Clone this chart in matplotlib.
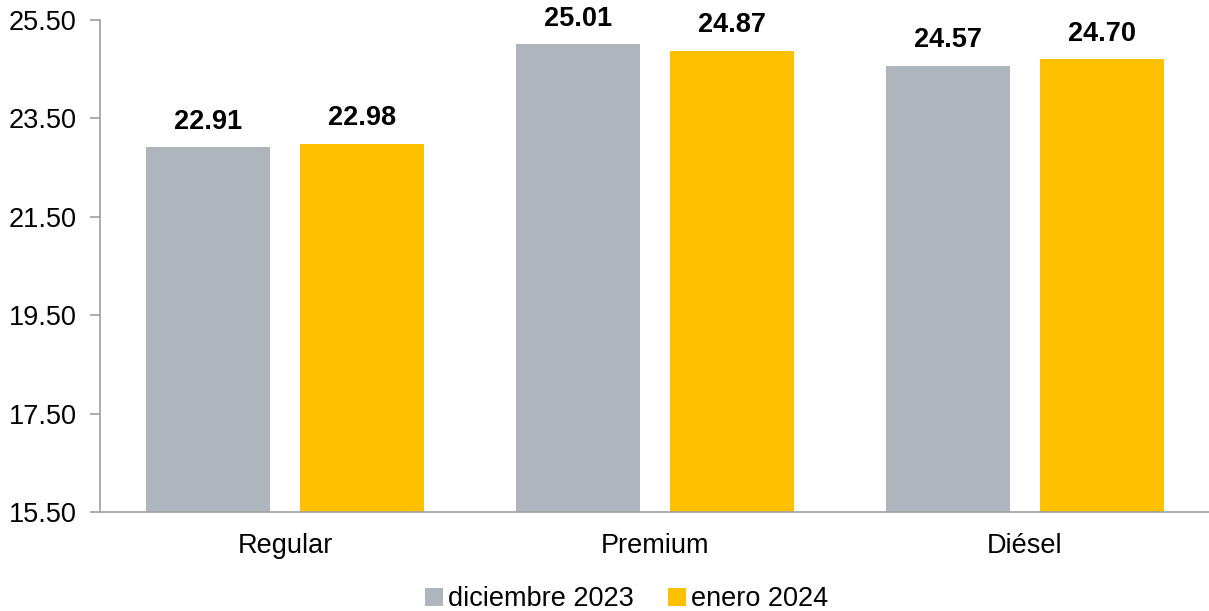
import matplotlib
matplotlib.use("Agg")
import matplotlib.pyplot as plt
import numpy as np

categories = ["Regular", "Premium", "Diésel"]
series_names = ["diciembre 2023", "enero 2024"]
dic_2023 = [22.91, 25.01, 24.57]
ene_2024 = [22.98, 24.87, 24.70]
yticks = [15.50, 17.50, 19.50, 21.50, 23.50, 25.50]

colors = ["#AEB5BC", "#FFC000"]

plt.rcParams['font.family'] = ['Liberation Sans', 'DejaVu Sans']

fig = plt.figure(figsize=(12.09, 6.11), dpi=100)
ax = fig.add_axes([100/1209, 1 - 512/611, 1110/1209, (512 - 20)/611])

x = np.arange(len(categories))
w = 0.333
off = 0.208
b1 = ax.bar(x - off, dic_2023, w, color=colors[0], label=series_names[0])
b2 = ax.bar(x + off, ene_2024, w, color=colors[1], label=series_names[1])

for bars, vals in ((b1, dic_2023), (b2, ene_2024)):
    for r, v in zip(bars, vals):
        ax.annotate(f"{v:.2f}", (r.get_x() + r.get_width()/2, v),
                    xytext=(0, 9), textcoords="offset points",
                    ha="center", va="bottom", fontsize=19.5, fontweight="bold")

ax.set_xlim(-0.5, 2.5)
ax.set_ylim(15.5, 25.5)
ax.set_yticks(yticks)
ax.set_yticklabels([f"{t:.2f}" for t in yticks], fontsize=19.5)
ax.set_xticks(x)
ax.set_xticklabels(categories, fontsize=19.5)
ax.tick_params(axis='x', length=0, pad=15)
ax.tick_params(axis='y', length=7, width=1.2, color="#A0A0A0", pad=10)
for s in ["top", "right"]:
    ax.spines[s].set_visible(False)
for s in ["left", "bottom"]:
    ax.spines[s].set_color("#A0A0A0")
    ax.spines[s].set_linewidth(1.2)

ax.legend(loc="lower center", bbox_to_anchor=(0.4745, -0.253), ncol=2,
          frameon=False, fontsize=19.5, handlelength=0.65, handleheight=0.65,
          handletextpad=0.2, columnspacing=1.25)

fig.savefig("out.png", dpi=100)
